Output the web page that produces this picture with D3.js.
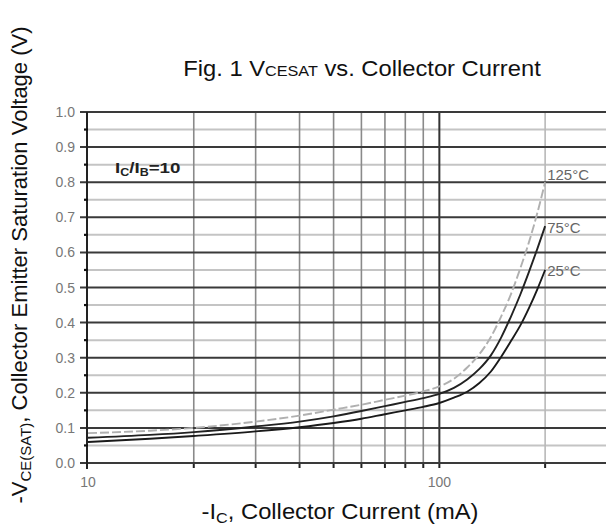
<!DOCTYPE html>
<html><head><meta charset="utf-8">
<script src="https://cdn.jsdelivr.net/npm/d3@7"></script>
<style>
body{margin:0;background:#fff;}
text{font-family:"Liberation Sans",Arial,sans-serif;}
</style></head>
<body>
<svg id="c" width="606" height="530"></svg>
<script>
const currents = [10, 15, 20, 30, 40, 50, 60, 70, 80, 90, 100, 110, 120, 130, 140, 150, 160, 170, 180, 190, 200];
const v25  = [0.060, 0.069, 0.077, 0.090, 0.102, 0.114, 0.126, 0.139, 0.150, 0.160, 0.171, 0.186, 0.203, 0.228, 0.260, 0.303, 0.348, 0.392, 0.442, 0.495, 0.550];
const v75  = [0.072, 0.080, 0.088, 0.104, 0.118, 0.133, 0.148, 0.162, 0.174, 0.185, 0.197, 0.214, 0.238, 0.268, 0.306, 0.358, 0.418, 0.480, 0.545, 0.610, 0.675];
const v125 = [0.085, 0.092, 0.100, 0.118, 0.135, 0.152, 0.166, 0.180, 0.192, 0.204, 0.218, 0.240, 0.272, 0.310, 0.358, 0.418, 0.482, 0.555, 0.630, 0.712, 0.800];
const seriesNames = ["25°C", "75°C", "125°C"];
const yMajor = [0.0, 0.1, 0.2, 0.3, 0.4, 0.5, 0.6, 0.7, 0.8, 0.9, 1.0];
const yMinor = [0.05, 0.15, 0.25, 0.35, 0.45, 0.55, 0.65, 0.75, 0.85, 0.95];
const xGrid = [20, 30, 40, 50, 60, 70, 80, 90, 100, 200];
const xTickLabels = [10, 100];

const svg = d3.select("#c");
const x = d3.scaleLog().domain([10, 300]).range([88, 607]);
const y = d3.scaleLinear().domain([0, 1]).range([463, 112]);

// horizontal minor grid
svg.append("g").selectAll("line").data(yMinor).join("line")
  .attr("x1", 88).attr("x2", 606).attr("y1", d => y(d)).attr("y2", d => y(d))
  .attr("stroke", "#c4c4c4").attr("stroke-width", 2);
// vertical grid
svg.append("g").selectAll("line").data(xGrid).join("line")
  .attr("x1", d => x(d)).attr("x2", d => x(d)).attr("y1", 112).attr("y2", 463)
  .attr("stroke", d => d === 100 ? "#333" : (d === 200 ? "#b8b8b8" : "#8a8a8a"))
  .attr("stroke-width", d => d === 100 ? 2 : 1.6);
// bottom ticks
svg.append("g").selectAll("line").data(xGrid).join("line")
  .attr("x1", d => x(d)).attr("x2", d => x(d)).attr("y1", 463).attr("y2", 468)
  .attr("stroke", "#222").attr("stroke-width", 2);
// horizontal major grid
svg.append("g").selectAll("line").data(yMajor).join("line")
  .attr("x1", 80).attr("x2", 606).attr("y1", d => y(d)).attr("y2", d => y(d))
  .attr("stroke", "#3a3a3a").attr("stroke-width", 2);
// left axis line
svg.append("line").attr("x1", 87).attr("x2", 87).attr("y1", 112).attr("y2", 469)
  .attr("stroke", "#222").attr("stroke-width", 2);
// minor ticks left
svg.append("g").selectAll("line").data(yMinor).join("line")
  .attr("x1", 84).attr("x2", 88).attr("y1", d => y(d)).attr("y2", d => y(d))
  .attr("stroke", "#111").attr("stroke-width", 2.2);
// y tick labels
svg.append("g").selectAll("text").data(yMajor).join("text")
  .attr("x", 75).attr("y", d => y(d) + 5).attr("text-anchor", "end")
  .attr("font-size", 14).attr("fill", "#777").text(d => d.toFixed(1));
// x tick labels
svg.append("g").selectAll("text").data(xTickLabels).join("text")
  .attr("x", d => x(d)).attr("y", 487).attr("text-anchor", "middle")
  .attr("font-size", 14).attr("fill", "#777").text(d => d);

// curves
const line = d3.line().x(d => x(d[0])).y(d => y(d[1])).curve(d3.curveMonotoneX);
const allSeries = [v25, v75, v125];
const colors = ["#1a1a1a", "#222", "#b0b0b0"];
const dashes = [null, null, "9,3"];
allSeries.forEach((vals, i) => {
  svg.append("path").datum(currents.map((c, j) => [c, vals[j]]))
    .attr("d", line).attr("fill", "none").attr("stroke", colors[i])
    .attr("stroke-width", 1.9).attr("stroke-dasharray", dashes[i]);
});
// curve labels
const lastC = currents[currents.length - 1];
const labelOffsets = [6, 7, -2];
seriesNames.forEach((n, i) => {
  const v = allSeries[i][allSeries[i].length - 1];
  svg.append("text").attr("x", x(lastC) + 2).attr("y", y(v) + labelOffsets[i])
    .attr("font-size", 15).attr("fill", "#666").text(n);
});

// annotation Ic/Ib = 10
const ann = svg.append("text").attr("transform", "translate(115,173) scale(1.25,1)")
  .attr("font-size", 15).attr("font-weight", "bold").attr("fill", "#222");
ann.append("tspan").text("I");
ann.append("tspan").attr("font-size", 10).attr("dy", 3).text("C");
ann.append("tspan").attr("dy", -3).text("/I");
ann.append("tspan").attr("font-size", 10).attr("dy", 3).text("B");
ann.append("tspan").attr("dy", -3).text("=10");

// title
const t = svg.append("text").attr("transform", "translate(362,76) scale(1.08,1)")
  .attr("text-anchor", "middle").attr("font-size", 22).attr("fill", "#111");
t.append("tspan").text("Fig. 1 V");
t.append("tspan").attr("font-size", 15).text("CESAT");
t.append("tspan").text(" vs. Collector Current");

// x axis title
const xt = svg.append("text").attr("transform", "translate(340,519) scale(1.08,1)")
  .attr("text-anchor", "middle").attr("font-size", 22).attr("fill", "#111");
xt.append("tspan").text("-I");
xt.append("tspan").attr("font-size", 15).attr("dy", 4).text("C");
xt.append("tspan").attr("dy", -4).text(", Collector Current (mA)");

// y axis title
const yt = svg.append("text").attr("transform", "translate(27,265) rotate(-90)")
  .attr("text-anchor", "middle").attr("font-size", 22).attr("fill", "#111");
yt.append("tspan").text("-V");
yt.append("tspan").attr("font-size", 15).attr("dy", 4).text("CE(SAT)");
yt.append("tspan").attr("dy", -4).text(", Collector Emitter Saturation Voltage (V)");
</script>
</body></html>
